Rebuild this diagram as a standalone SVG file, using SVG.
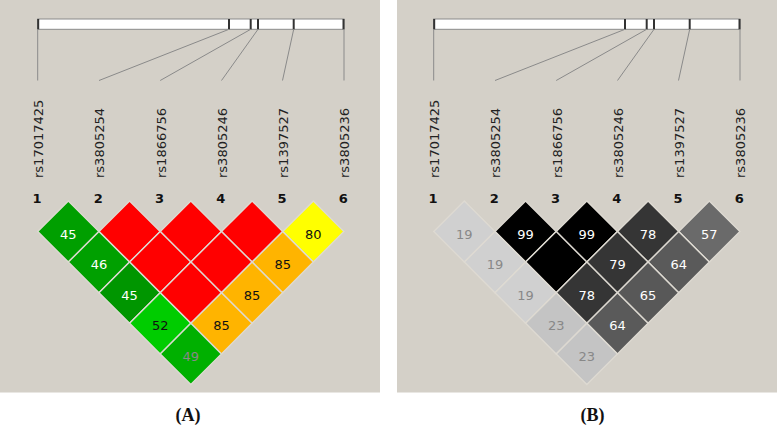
<svg xmlns="http://www.w3.org/2000/svg" width="777" height="426" viewBox="0 0 777 426">
<style>
.panel{fill:#d4d0c8}
.bar{fill:#fff;stroke:#8a8a8a;stroke-width:1}
.div{stroke:#333;stroke-width:2}
.ln{stroke:#8a8a8a;stroke-width:1;fill:none}
.snp{font-family:"DejaVu Sans",sans-serif;font-size:13px;fill:#222}
.idx{font-family:"DejaVu Sans",sans-serif;font-weight:bold;font-size:13px;fill:#111;text-anchor:middle}
.cell use{stroke:#dedad2;stroke-width:1.4}
.v{font-family:"DejaVu Sans",sans-serif;font-size:13px;text-anchor:middle}
.w{fill:#fff}.k{fill:#111}.g{fill:#888}
.cap{font-family:"Liberation Serif",serif;font-weight:bold;font-size:18px;text-anchor:middle;fill:#111}
</style>
<defs>
<polygon id="dm" points="0,-30.6 30.6,0 0,30.6 -30.6,0"/>
</defs>
<rect width="777" height="426" fill="#fff"/>
<rect class="panel" x="0" y="0" width="380" height="392.5"/>
<rect class="panel" x="397" y="0" width="380" height="392.5"/>

<!-- Panel A -->
<g id="headerA">
<rect class="bar" x="37.7" y="19" width="306.3" height="10.3"/>
<line class="div" x1="38.2" y1="19" x2="38.2" y2="29.3"/>
<line class="div" x1="229" y1="19" x2="229" y2="29.3"/>
<line class="div" x1="250.7" y1="19" x2="250.7" y2="29.3"/>
<line class="div" x1="258" y1="19" x2="258" y2="29.3"/>
<line class="div" x1="293.7" y1="19" x2="293.7" y2="29.3"/>
<line class="div" x1="343.5" y1="19" x2="343.5" y2="29.3"/>
</g>
<g id="connectorsA">
<line class="ln" x1="37.7" y1="29.3" x2="37.7" y2="80.5"/>
<line class="ln" x1="229" y1="29.3" x2="99" y2="80.5"/>
<line class="ln" x1="250.7" y1="29.3" x2="160.2" y2="80.5"/>
<line class="ln" x1="258" y1="29.3" x2="221.5" y2="80.5"/>
<line class="ln" x1="293.7" y1="29.3" x2="282.5" y2="80.5"/>
<line class="ln" x1="344" y1="29.3" x2="344" y2="80.5"/>
</g>
<g id="labelsA">
<text class="snp" transform="translate(43.4,178) rotate(-90)">rs17017425</text>
<text class="snp" transform="translate(104.4,178) rotate(-90)">rs3805254</text>
<text class="snp" transform="translate(165.7,178) rotate(-90)">rs1866756</text>
<text class="snp" transform="translate(226.9,178) rotate(-90)">rs3805246</text>
<text class="snp" transform="translate(288.2,178) rotate(-90)">rs1397527</text>
<text class="snp" transform="translate(349.4,178) rotate(-90)">rs3805236</text>
<text class="idx" x="37" y="202.5">1</text>
<text class="idx" x="98.3" y="202.5">2</text>
<text class="idx" x="159.5" y="202.5">3</text>
<text class="idx" x="220.8" y="202.5">4</text>
<text class="idx" x="282" y="202.5">5</text>
<text class="idx" x="343.3" y="202.5">6</text>
</g>
<g id="cellsA" class="cell">
<g id="a12" transform="translate(68.33,231.5)"><use href="#dm" fill="#009f00"/><text class="v w" y="7">45</text></g>
<g id="a23" transform="translate(129.58,231.5)"><use href="#dm" fill="#ff0000"/></g>
<g id="a34" transform="translate(190.83,231.5)"><use href="#dm" fill="#ff0000"/></g>
<g id="a45" transform="translate(252.08,231.5)"><use href="#dm" fill="#ff0000"/></g>
<g id="a56" transform="translate(313.33,231.5)"><use href="#dm" fill="#ffff00"/><text class="v k" y="7">80</text></g>
<g id="a13" transform="translate(98.95,262.1)"><use href="#dm" fill="#00a000"/><text class="v w" y="7">46</text></g>
<g id="a24" transform="translate(160.2,262.1)"><use href="#dm" fill="#ff0000"/></g>
<g id="a35" transform="translate(221.45,262.1)"><use href="#dm" fill="#ff0000"/></g>
<g id="a46" transform="translate(282.7,262.1)"><use href="#dm" fill="#ffb400"/><text class="v k" y="7">85</text></g>
<g id="a14" transform="translate(129.58,292.7)"><use href="#dm" fill="#009600"/><text class="v w" y="7">45</text></g>
<g id="a25" transform="translate(190.83,292.7)"><use href="#dm" fill="#ff0000"/></g>
<g id="a36" transform="translate(252.08,292.7)"><use href="#dm" fill="#ffb400"/><text class="v k" y="7">85</text></g>
<g id="a15" transform="translate(160.2,323.3)"><use href="#dm" fill="#00cc00"/><text class="v k" y="7">52</text></g>
<g id="a26" transform="translate(221.45,323.3)"><use href="#dm" fill="#ffb400"/><text class="v k" y="7">85</text></g>
<g id="a16" transform="translate(190.83,353.9)"><use href="#dm" fill="#00b000"/><text class="v g" y="7">49</text></g>
</g>

<!-- Panel B -->
<g transform="translate(396,0)">
<g id="headerB">
<rect class="bar" x="37.7" y="19" width="306.3" height="10.3"/>
<line class="div" x1="38.2" y1="19" x2="38.2" y2="29.3"/>
<line class="div" x1="229" y1="19" x2="229" y2="29.3"/>
<line class="div" x1="250.7" y1="19" x2="250.7" y2="29.3"/>
<line class="div" x1="258" y1="19" x2="258" y2="29.3"/>
<line class="div" x1="293.7" y1="19" x2="293.7" y2="29.3"/>
<line class="div" x1="343.5" y1="19" x2="343.5" y2="29.3"/>
</g>
<g id="connectorsB">
<line class="ln" x1="37.7" y1="29.3" x2="37.7" y2="80.5"/>
<line class="ln" x1="229" y1="29.3" x2="99" y2="80.5"/>
<line class="ln" x1="250.7" y1="29.3" x2="160.2" y2="80.5"/>
<line class="ln" x1="258" y1="29.3" x2="221.5" y2="80.5"/>
<line class="ln" x1="293.7" y1="29.3" x2="282.5" y2="80.5"/>
<line class="ln" x1="344" y1="29.3" x2="344" y2="80.5"/>
</g>
<g id="labelsB">
<text class="snp" transform="translate(43.4,178) rotate(-90)">rs17017425</text>
<text class="snp" transform="translate(104.4,178) rotate(-90)">rs3805254</text>
<text class="snp" transform="translate(165.7,178) rotate(-90)">rs1866756</text>
<text class="snp" transform="translate(226.9,178) rotate(-90)">rs3805246</text>
<text class="snp" transform="translate(288.2,178) rotate(-90)">rs1397527</text>
<text class="snp" transform="translate(349.4,178) rotate(-90)">rs3805236</text>
<text class="idx" x="37" y="202.5">1</text>
<text class="idx" x="98.3" y="202.5">2</text>
<text class="idx" x="159.5" y="202.5">3</text>
<text class="idx" x="220.8" y="202.5">4</text>
<text class="idx" x="282" y="202.5">5</text>
<text class="idx" x="343.3" y="202.5">6</text>
</g>
<g id="cellsB" class="cell">
<g id="b12" transform="translate(68.33,231.5)"><use href="#dm" fill="#d0d0d0"/><text class="v g" y="7">19</text></g>
<g id="b23" transform="translate(129.58,231.5)"><use href="#dm" fill="#000"/><text class="v w" y="7">99</text></g>
<g id="b34" transform="translate(190.83,231.5)"><use href="#dm" fill="#000"/><text class="v w" y="7">99</text></g>
<g id="b45" transform="translate(252.08,231.5)"><use href="#dm" fill="#353535"/><text class="v w" y="7">78</text></g>
<g id="b56" transform="translate(313.33,231.5)"><use href="#dm" fill="#6a6a6a"/><text class="v w" y="7">57</text></g>
<g id="b13" transform="translate(98.95,262.1)"><use href="#dm" fill="#d0d0d0"/><text class="v g" y="7">19</text></g>
<g id="b24" transform="translate(160.2,262.1)"><use href="#dm" fill="#000"/></g>
<g id="b35" transform="translate(221.45,262.1)"><use href="#dm" fill="#353535"/><text class="v w" y="7">79</text></g>
<g id="b46" transform="translate(282.7,262.1)"><use href="#dm" fill="#5a5a5a"/><text class="v w" y="7">64</text></g>
<g id="b14" transform="translate(129.58,292.7)"><use href="#dm" fill="#d0d0d0"/><text class="v g" y="7">19</text></g>
<g id="b25" transform="translate(190.83,292.7)"><use href="#dm" fill="#353535"/><text class="v w" y="7">78</text></g>
<g id="b36" transform="translate(252.08,292.7)"><use href="#dm" fill="#585858"/><text class="v w" y="7">65</text></g>
<g id="b15" transform="translate(160.2,323.3)"><use href="#dm" fill="#c4c4c4"/><text class="v g" y="7">23</text></g>
<g id="b26" transform="translate(221.45,323.3)"><use href="#dm" fill="#5a5a5a"/><text class="v w" y="7">64</text></g>
<g id="b16" transform="translate(190.83,353.9)"><use href="#dm" fill="#c4c4c4"/><text class="v g" y="7">23</text></g>
</g>
</g>

<text class="cap" x="188" y="420.5">(A)</text>
<text class="cap" x="592.5" y="420.5">(B)</text>
</svg>
